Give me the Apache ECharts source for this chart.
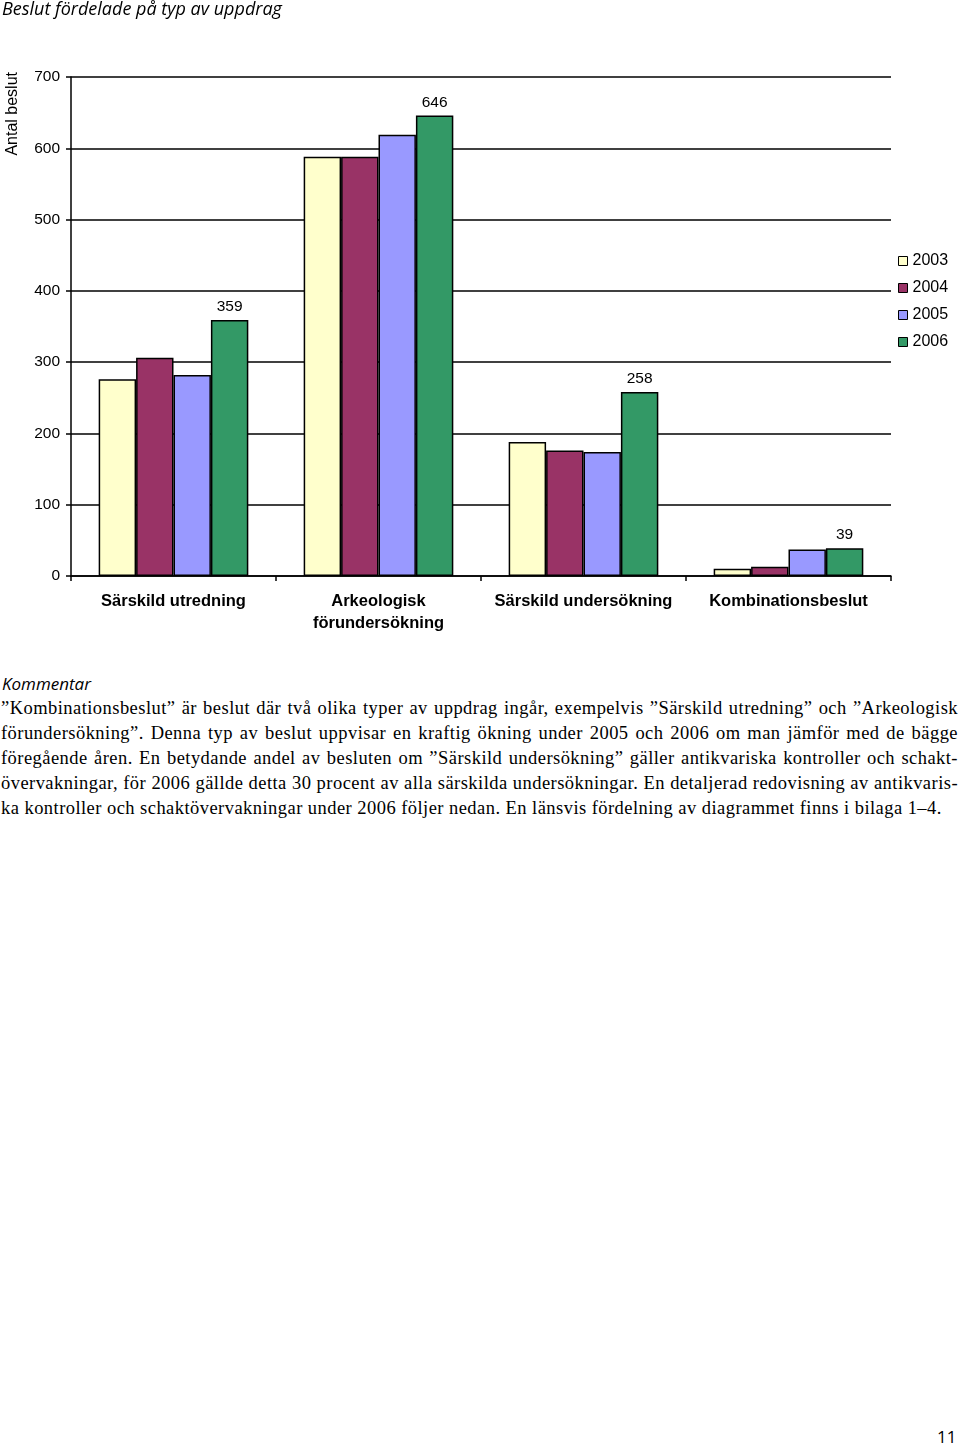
<!DOCTYPE html>
<html>
<head>
<meta charset="utf-8">
<script src="https://cdn.jsdelivr.net/npm/echarts@6/dist/echarts.min.js"></script>
<style>
	html, body {
		margin: 0;
		padding: 0;
		background: #fff;
	}
	#page {
		position: relative;
		width: 960px;
		height: 1444px;
		overflow: hidden;
	}
	#chart {
		position: absolute;
		left: 0;
		top: 0;
		width: 960px;
		height: 650px;
	}
	#rubrik {
		position: absolute;
		left: 2px;
		top: 672px;
		font-family: 'Open Sans', sans-serif;
		font-style: italic;
		font-size: 17px;
		color: #000;
	}
	#text {
		position: absolute;
		left: 1px;
		top: 696px;
		width: 957px;
		font-family: 'Liberation Serif', serif;
		font-size: 18.5px;
		letter-spacing: 0.45px;
		line-height: 25px;
		color: #000;
	}
	#text .rad {
		text-align: justify;
		text-align-last: justify;
		white-space: nowrap;
	}
	#text .rad.sist {
		text-align-last: left;
	}
	#sida {
		position: absolute;
		left: 937px;
		top: 1425px;
		font-family: 'Open Sans', sans-serif;
		font-size: 17px;
		color: #000;
	}
</style>
</head>
<body>
<div id="page">
	<div id="chart"></div>
	<div id="rubrik">Kommentar</div>
	<div id="text">
		<div class="rad">”Kombinationsbeslut” är beslut där två olika typer av uppdrag ingår, exempelvis ”Särskild utredning” och ”Arkeologisk</div>
		<div class="rad">förundersökning”. Denna typ av beslut uppvisar en kraftig ökning under 2005 och 2006 om man jämför med de bägge</div>
		<div class="rad">föregående åren. En betydande andel av besluten om ”Särskild undersökning” gäller antikvariska kontroller och schakt-</div>
		<div class="rad">övervakningar, för 2006 gällde detta 30 procent av alla särskilda undersökningar. En detaljerad redovisning av antikvaris-</div>
		<div class="rad sist">ka kontroller och schaktövervakningar under 2006 följer nedan. En länsvis fördelning av diagrammet finns i bilaga 1–4.</div>
	</div>
	<div id="sida">11</div>
</div>
<script>
// kategorier och värden
const kategorier = ['Särskild utredning', 'Arkeologisk\nförundersökning', 'Särskild undersökning', 'Kombinationsbeslut']
const ar = ['2003', '2004', '2005', '2006']
const v2003 = [276, 588, 188, 10]
const v2004 = [306, 588, 176, 13]
const v2005 = [282, 619, 174, 37]
const v2006 = [359, 646, 258, 39]
const yTicks = [0, 100, 200, 300, 400, 500, 600, 700]

const farger = ['#FFFFCC', '#993366', '#9999FF', '#339966']
const serieData = [v2003, v2004, v2005, v2006]

const myChart = echarts.init(document.getElementById('chart'))

let series = ar.map(function (namn, i) {
	return {
		name: namn,
		type: 'bar',
		data: serieData[i],
		barGap: '0%',
		barCategoryGap: '27%',
		itemStyle: {
			color: farger[i],
			borderColor: '#000',
			borderWidth: 1.5
		},
		label: {
			show: i === 3, // bara 2006 har etiketter
			position: 'top',
			distance: 5,
			color: '#000',
			fontFamily: 'Liberation Sans',
			fontSize: 15.5
		}
	}
})

let option = {
	animation: false,
	backgroundColor: '#fff',
	title: {
		text: 'Beslut fördelade på typ av uppdrag',
		left: 2,
		top: 1,
		padding: 0,
		textStyle: {
			fontFamily: 'Open Sans',
			fontStyle: 'italic',
			fontWeight: 'normal',
			fontSize: 18,
			color: '#000'
		}
	},
	legend: {
		orient: 'vertical',
		left: 898,
		top: 252,
		padding: 0,
		itemWidth: 9,
		itemHeight: 9,
		itemGap: 9,
		icon: 'rect',
		data: ar,
		itemStyle: {
			borderColor: '#000',
			borderWidth: 1
		},
		textStyle: {
			fontFamily: 'Liberation Sans',
			fontSize: 16,
			lineHeight: 18,
			color: '#000',
			padding: [0, 0, 0, 0]
		}
	},
	grid: {
		left: 71,
		right: 69,
		top: 77,
		bottom: 74,
		containLabel: false
	},
	xAxis: {
		type: 'category',
		data: kategorier,
		axisLine: {
			lineStyle: { color: '#000', width: 1.5 }
		},
		axisTick: {
			show: true,
			length: 5,
			lineStyle: { color: '#000', width: 1.5 }
		},
		axisLabel: {
			interval: 0,
			margin: 14,
			fontFamily: 'Liberation Sans',
			fontWeight: 'bold',
			fontSize: 16.5,
			lineHeight: 22,
			color: '#000'
		}
	},
	yAxis: {
		type: 'value',
		min: yTicks[0],
		max: yTicks[yTicks.length - 1],
		interval: 100,
		axisLine: {
			show: true,
			lineStyle: { color: '#000', width: 1.5 }
		},
		axisTick: {
			show: true,
			length: 5,
			lineStyle: { color: '#000', width: 1.5 }
		},
		axisLabel: {
			margin: 11,
			fontFamily: 'Liberation Sans',
			fontSize: 15.5,
			color: '#000'
		},
		splitLine: {
			show: true,
			lineStyle: { color: '#000', width: 1.5 }
		}
	},
	graphic: [{
		type: 'text',
		left: 5,
		top: 72,
		rotation: Math.PI / 2,
		style: {
			text: 'Antal beslut',
			fontFamily: 'Liberation Sans',
			fontSize: 16,
			fill: '#000'
		}
	}],
	series: series
}
myChart.setOption(option)
</script>
</body>
</html>
